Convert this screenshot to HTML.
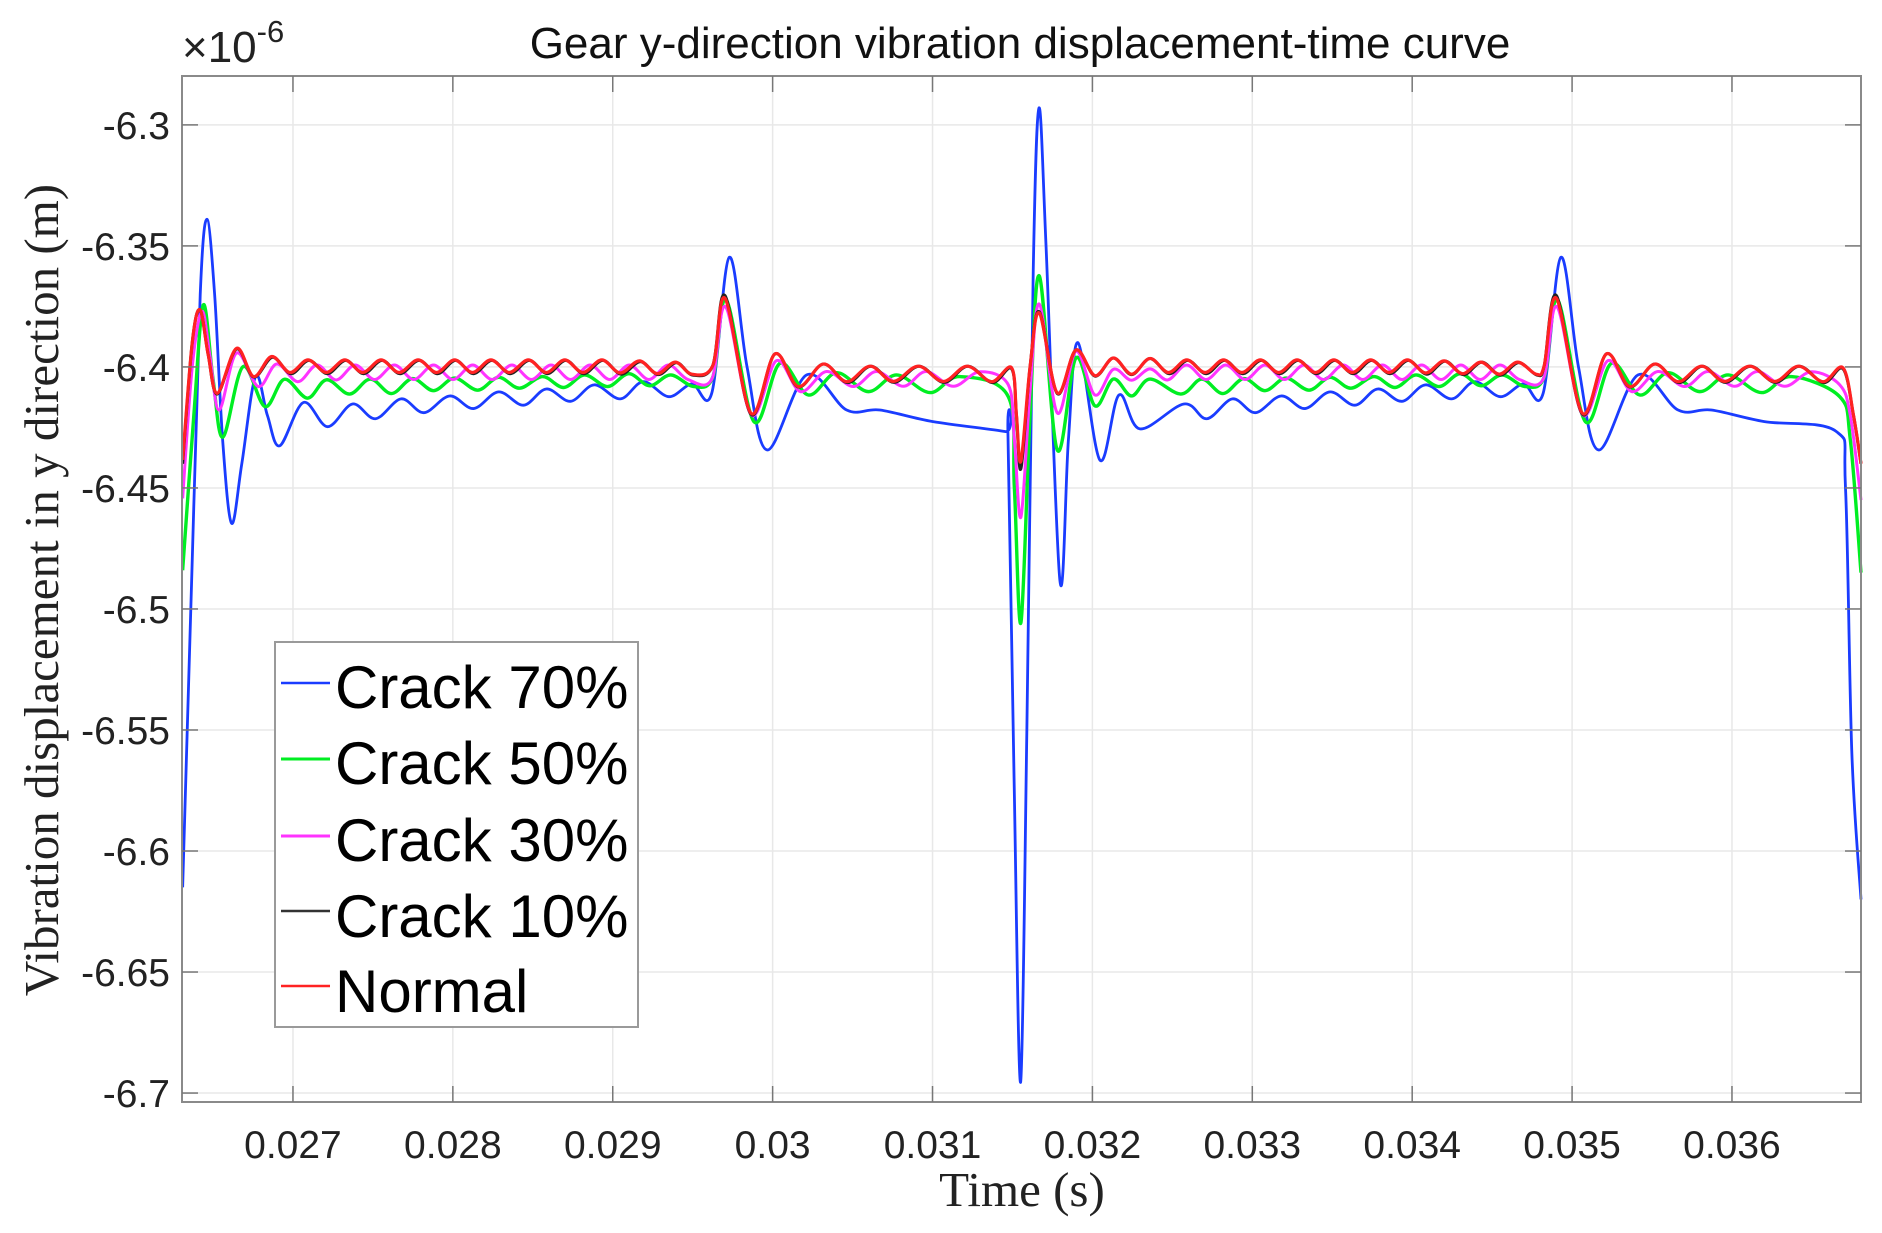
<!DOCTYPE html>
<html><head><meta charset="utf-8"><style>
html,body{margin:0;padding:0;background:#fff;}
svg{display:block;}
</style></head><body>
<svg id="chart" width="1882" height="1233" viewBox="0 0 1882 1233" xmlns="http://www.w3.org/2000/svg">
<rect width="1882" height="1233" fill="#fff"/>
<g id="grid"></g>
<g id="series"></g>
<rect x="182" y="76" width="1679" height="1026" fill="none" stroke="#8a8a8a" stroke-width="2"/>
<g id="ticks"></g>
<text x="1020" y="58" text-anchor="middle" font-family="Liberation Sans, sans-serif" font-size="44" fill="#111">Gear y-direction vibration displacement-time curve</text>
<text x="182" y="62" font-family="Liberation Sans, sans-serif" font-size="44" fill="#222">×10<tspan dy="-20" font-size="31">-6</tspan></text>
<text x="1022" y="1206" text-anchor="middle" font-family="Liberation Serif, serif" font-size="49" fill="#222">Time (s)</text>
<text transform="translate(58,590) rotate(-90)" text-anchor="middle" font-family="Liberation Serif, serif" font-size="49" fill="#222">Vibration displacement in y direction (m)</text>
<g>
<rect x="275" y="642" width="363" height="385" fill="#fff" stroke="#9a9a9a" stroke-width="2"/>
<line x1="281" y1="683" x2="330" y2="683" stroke="#1a3cff" stroke-width="2.5"/>
<text x="335" y="708" font-family="Liberation Sans, sans-serif" font-size="60">Crack 70%</text>
<line x1="281" y1="759" x2="330" y2="759" stroke="#00ee22" stroke-width="3"/>
<text x="335" y="784" font-family="Liberation Sans, sans-serif" font-size="60">Crack 50%</text>
<line x1="281" y1="836" x2="330" y2="836" stroke="#ff33ff" stroke-width="3"/>
<text x="335" y="861" font-family="Liberation Sans, sans-serif" font-size="60">Crack 30%</text>
<line x1="281" y1="911" x2="330" y2="911" stroke="#333" stroke-width="2.5"/>
<text x="335" y="937" font-family="Liberation Sans, sans-serif" font-size="60">Crack 10%</text>
<line x1="281" y1="986" x2="330" y2="986" stroke="#ff2222" stroke-width="2.5"/>
<text x="335" y="1012" font-family="Liberation Sans, sans-serif" font-size="60">Normal</text>
</g>
</svg>
<script>
const xTicks = [0.027,0.028,0.029,0.030,0.031,0.032,0.033,0.034,0.035,0.036];
const xTickLabels = ["0.027","0.028","0.029","0.03","0.031","0.032","0.033","0.034","0.035","0.036"];
const yTicks = [-6.3,-6.35,-6.4,-6.45,-6.5,-6.55,-6.6,-6.65,-6.7];
const yTickLabels = ["-6.3","-6.35","-6.4","-6.45","-6.5","-6.55","-6.6","-6.65","-6.7"];

const crack70 = [[0.02631,-6.615],[0.02637,-6.48],[0.02642,-6.37],[0.026462,-6.339],[0.02651,-6.37],[0.02656,-6.43],[0.026616,-6.4646],[0.02668,-6.44],[0.026766,-6.404],[0.02684,-6.42],[0.026917,-6.4326],
[0.027065,-6.4147],[0.027216,-6.4247],[0.027372,-6.4153],[0.027516,-6.4214],[0.027676,-6.4132],[0.027819,-6.4189],[0.02798,-6.412],[0.02813,-6.4172],[0.028286,-6.4103],[0.028442,-6.4158],[0.028585,-6.4091],[0.028736,-6.4142],[0.028884,-6.4074],[0.029047,-6.4132],[0.029191,-6.4061],[0.029351,-6.4123],[0.029495,-6.407],[0.029619,-6.4109],
[0.029729,-6.3547],[0.02984,-6.40],[0.029966,-6.4343],[0.030213,-6.4033],[0.030463,-6.4178],[0.030671,-6.4178],[0.031003,-6.4226],[0.031453,-6.4267],
[0.031472,-6.4285],[0.03151,-6.57],[0.031551,-6.6955],[0.03159,-6.55],[0.03163,-6.36],[0.031666,-6.293],[0.03171,-6.35],[0.031797,-6.4884],[0.03185,-6.43],[0.03191,-6.39],[0.032047,-6.4385],[0.032166,-6.4116],[0.032297,-6.4256],
[0.032572,-6.4153],[0.032716,-6.4214],[0.032876,-6.4132],[0.033019,-6.4189],[0.03318,-6.412],[0.03333,-6.4172],[0.033486,-6.4103],[0.033642,-6.4158],[0.033785,-6.4091],[0.033936,-6.4142],[0.034084,-6.4074],[0.034247,-6.4132],[0.034391,-6.4061],[0.034551,-6.4123],[0.034695,-6.407],[0.034819,-6.4109],
[0.03493,-6.3547],[0.03504,-6.40],[0.035166,-6.4343],[0.035413,-6.4033],[0.035663,-6.4178],[0.035871,-6.4178],[0.036203,-6.4226],[0.036653,-6.4267],[0.03671,-6.45],[0.03675,-6.56],[0.036807,-6.62]];

const crack50 = [[0.02631,-6.484],[0.02638,-6.42],[0.026439,-6.3744],[0.0265,-6.405],[0.026562,-6.429],[0.026687,-6.3999],[0.026825,-6.4164],[0.026946,-6.4051],[0.02709,-6.4129],[0.02721,-6.4053],[0.027353,-6.4112],[0.027484,-6.405],[0.027616,-6.411],[0.027747,-6.4048],[0.027879,-6.4098],[0.028011,-6.4046],[0.028155,-6.4096],[0.028286,-6.4043],[0.028417,-6.4088],[0.028561,-6.404],[0.028693,-6.4085],[0.028825,-6.4033],[0.028968,-6.4081],[0.0291,-6.4028],[0.029231,-6.4078],[0.029363,-6.4033],[0.029507,-6.4081],[0.029627,-6.404],
[0.02971,-6.3723],[0.029883,-6.4226],[0.030046,-6.3985],[0.030223,-6.4116],[0.0304,-6.4024],[0.030598,-6.4102],[0.030776,-6.4033],[0.030984,-6.4106],[0.031171,-6.404],[0.031474,-6.4123],
[0.031512,-6.45],[0.031553,-6.5056],[0.03161,-6.42],[0.031668,-6.3624],[0.03178,-6.4343],[0.031897,-6.3963],[0.032016,-6.4161],[0.032131,-6.405],[0.032245,-6.412],[0.03236,-6.405],
[0.032553,-6.4112],[0.032684,-6.405],[0.032816,-6.411],[0.032947,-6.4048],[0.033079,-6.4098],[0.033211,-6.4046],[0.033355,-6.4096],[0.033486,-6.4043],[0.033617,-6.4088],[0.033761,-6.404],[0.033893,-6.4085],[0.034025,-6.4033],[0.034168,-6.4081],[0.0343,-6.4028],[0.034431,-6.4078],[0.034563,-6.4033],[0.034707,-6.4081],[0.034827,-6.404],
[0.03491,-6.3723],[0.035083,-6.4226],[0.035246,-6.3985],[0.035423,-6.4116],[0.0356,-6.4024],[0.035798,-6.4102],[0.035976,-6.4033],[0.036184,-6.4106],[0.036371,-6.404],[0.036674,-6.4123],[0.03674,-6.43],[0.036807,-6.485]];

const crack30 = [[0.02631,-6.4543],[0.02637,-6.40],[0.026431,-6.3771],[0.02648,-6.395],[0.026538,-6.4178],[0.026647,-6.3943],[0.026783,-6.4081],[0.026898,-6.3988],[0.02703,-6.4061],[0.02715,-6.3992],[0.02727,-6.4054],
[0.027389,-6.3992],[0.027511,-6.4052],[0.027634,-6.3992],[0.027756,-6.4052],[0.027879,-6.3992],[0.028001,-6.4052],[0.028124,-6.3992],[0.028246,-6.4052],[0.028369,-6.3992],[0.028491,-6.4052],[0.028614,-6.3992],[0.028736,-6.4052],[0.028859,-6.3992],[0.028981,-6.4052],[0.029104,-6.3992],[0.029226,-6.4052],[0.029349,-6.3992],[0.029471,-6.4052],[0.02962,-6.405],
[0.029705,-6.3751],[0.029866,-6.4198],[0.030024,-6.3974],[0.030174,-6.4102],[0.030337,-6.4019],[0.030504,-6.4081],[0.03065,-6.4019],[0.030817,-6.408],[0.03096,-6.4019],[0.03113,-6.408],[0.031297,-6.402],[0.031474,-6.4074],
[0.031512,-6.43],[0.031553,-6.462],[0.03161,-6.41],[0.031668,-6.374],[0.03178,-6.419],[0.031897,-6.3936],[0.032016,-6.4116],[0.032131,-6.401],[0.032245,-6.4055],[0.03236,-6.4008],
[0.03247,-6.4054],[0.032589,-6.3992],[0.032711,-6.4052],[0.032834,-6.3992],[0.032956,-6.4052],[0.033079,-6.3992],[0.033201,-6.4052],[0.033324,-6.3992],[0.033446,-6.4052],[0.033569,-6.3992],[0.033691,-6.4052],[0.033814,-6.3992],[0.033936,-6.4052],[0.034059,-6.3992],[0.034181,-6.4052],[0.034304,-6.3992],[0.034426,-6.4052],[0.034549,-6.3992],[0.034671,-6.4052],[0.03482,-6.405],
[0.034905,-6.3751],[0.035066,-6.4198],[0.035224,-6.3974],[0.035374,-6.4102],[0.035537,-6.4019],[0.035704,-6.4081],[0.03585,-6.4019],[0.036017,-6.408],[0.03616,-6.4019],[0.03633,-6.408],[0.036497,-6.402],[0.036674,-6.4074],[0.03674,-6.42],[0.036807,-6.455]];

const crack10 = [[0.02631,-6.44],[0.02637,-6.39],[0.026419,-6.3764],[0.02647,-6.395],[0.026527,-6.4112],[0.026647,-6.3926],[0.026754,-6.4042],[0.026872,-6.396],[0.026986,-6.4028],[0.0271,-6.3973],[0.027215,-6.4028],[0.02733,-6.3973],[0.027442,-6.4028],[0.027557,-6.3973],[0.02767,-6.4028],[0.027789,-6.3973],[0.027904,-6.4028],[0.028017,-6.3973],[0.028129,-6.4028],[0.028244,-6.3973],[0.028359,-6.4028],[0.028478,-6.3973],[0.028591,-6.4028],[0.028706,-6.3973],[0.028819,-6.4028],[0.028938,-6.3973],[0.029053,-6.403],[0.029173,-6.3978],[0.029285,-6.4032],[0.029398,-6.3982],[0.029501,-6.4034],[0.029626,-6.3994],
[0.029702,-6.3705],[0.029864,-6.4195],[0.030015,-6.3946],[0.03016,-6.4083],[0.030317,-6.3988],[0.030468,-6.4065],[0.030615,-6.3997],[0.030759,-6.4064],[0.030916,-6.3997],[0.031072,-6.4064],[0.031222,-6.3997],[0.031375,-6.4065],[0.031495,-6.4008],
[0.031525,-6.42],[0.031553,-6.442],[0.03161,-6.40],[0.031668,-6.3772],[0.03178,-6.411],[0.031897,-6.393],[0.032016,-6.4038],[0.032131,-6.3963],[0.032245,-6.4032],[0.03236,-6.3965],
[0.032481,-6.4028],[0.032596,-6.3973],[0.032711,-6.4028],[0.032826,-6.3973],[0.032941,-6.4028],[0.033056,-6.3973],[0.033171,-6.4028],[0.033286,-6.3973],[0.033401,-6.4028],[0.033516,-6.3973],[0.033631,-6.4028],[0.033746,-6.3973],[0.033861,-6.4028],[0.033976,-6.3973],[0.034091,-6.403],[0.034206,-6.3976],[0.034321,-6.4032],[0.034436,-6.398],[0.034551,-6.4034],[0.034666,-6.3982],[0.034781,-6.4034],[0.034826,-6.3994],
[0.034902,-6.3705],[0.035064,-6.4195],[0.035215,-6.3946],[0.03536,-6.4083],[0.035517,-6.3988],[0.035668,-6.4065],[0.035815,-6.3997],[0.035959,-6.4064],[0.036116,-6.3997],[0.036272,-6.4064],[0.036422,-6.3997],[0.036575,-6.4065],[0.036695,-6.4008],[0.03676,-6.42],[0.036807,-6.44]];

const normal = [[0.02631,-6.4384],[0.02637,-6.39],[0.026419,-6.3764],[0.02647,-6.395],[0.026527,-6.4109],[0.026647,-6.3923],[0.026754,-6.404],[0.026867,-6.3957],[0.026981,-6.4023],[0.027094,-6.3971],[0.027209,-6.4023],[0.027324,-6.3971],[0.027436,-6.4023],[0.027551,-6.3971],[0.027664,-6.4023],[0.027783,-6.3971],[0.027898,-6.4023],[0.028011,-6.3971],[0.028123,-6.4023],[0.028238,-6.3971],[0.028353,-6.4023],[0.028472,-6.3971],[0.028585,-6.4023],[0.0287,-6.3971],[0.028813,-6.4023],[0.028932,-6.3971],[0.029047,-6.4025],[0.029167,-6.3975],[0.029279,-6.4028],[0.029392,-6.398],[0.029495,-6.403],[0.029626,-6.3994],
[0.029702,-6.3716],[0.029864,-6.4191],[0.030015,-6.3946],[0.03016,-6.4081],[0.030317,-6.3988],[0.030463,-6.4061],[0.03061,-6.3997],[0.030754,-6.406],[0.030911,-6.3997],[0.031067,-6.406],[0.031217,-6.3997],[0.03137,-6.4061],[0.031495,-6.4004],
[0.031525,-6.42],[0.031553,-6.4389],[0.03161,-6.40],[0.031668,-6.3777],[0.03178,-6.4107],[0.031897,-6.393],[0.032016,-6.4036],[0.032131,-6.3963],[0.032245,-6.403],[0.03236,-6.3965],
[0.032475,-6.4023],[0.03259,-6.3971],[0.032705,-6.4023],[0.03282,-6.3971],[0.032935,-6.4023],[0.03305,-6.3971],[0.033165,-6.4023],[0.03328,-6.3971],[0.033395,-6.4023],[0.03351,-6.3971],[0.033625,-6.4023],[0.03374,-6.3971],[0.033855,-6.4023],[0.03397,-6.3971],[0.034085,-6.4025],[0.0342,-6.3975],[0.034315,-6.4028],[0.03443,-6.398],[0.034545,-6.403],[0.03466,-6.398],[0.034775,-6.403],[0.034826,-6.3994],
[0.034902,-6.3716],[0.035064,-6.4191],[0.035215,-6.3946],[0.03536,-6.4081],[0.035517,-6.3988],[0.035663,-6.4061],[0.03581,-6.3997],[0.035954,-6.406],[0.036111,-6.3997],[0.036267,-6.406],[0.036417,-6.3997],[0.03657,-6.4061],[0.036695,-6.4004],[0.03676,-6.42],[0.036807,-6.44]];

const seriesNames = ["crack-70","crack-50","crack-30","crack-10","normal"];
const seriesColors = ["#1a3cff","#00ee22","#ff33ff","#222222","#ff2222"];
const seriesWidths = [2.8,3.4,3,3,3.2];
const seriesData = [crack70,crack50,crack30,crack10,normal];

const X0=182,X1=1861,Y0=76,Y1=1102;
const xMin=0.026306,xMax=0.036807,yMin=-6.7037,yMax=-6.2798;
function xs(t){return X0+(t-xMin)/(xMax-xMin)*(X1-X0);}
function ys(v){return Y1-(v-yMin)/(yMax-yMin)*(Y1-Y0);}
const NS="http://www.w3.org/2000/svg";
const grid=document.getElementById('grid'),ticks=document.getElementById('ticks'),ser=document.getElementById('series');
function mk(tag,attrs,parent){const e=document.createElementNS(NS,tag);for(const k in attrs)e.setAttribute(k,attrs[k]);parent.appendChild(e);return e;}
xTicks.forEach((t,i)=>{
  const x=xs(t);
  const g=mk('line',{x1:x,y1:Y0,x2:x,y2:Y1,stroke:'#e8e8e8','stroke-width':1.5},grid);
  
  
  const tk=mk('line',{x1:x,y1:Y1,x2:x,y2:Y1-16,stroke:'#777','stroke-width':1.5},ticks);
  
  
  const tk2=mk('line',{x1:x,y1:Y0,x2:x,y2:Y0+16,stroke:'#777','stroke-width':1.5},ticks);
  
  
  const lb=mk('text',{x:x,y:1158,'text-anchor':'middle','font-family':'Liberation Sans, sans-serif','font-size':39,fill:'#222'},ticks);
  lb.textContent=xTickLabels[i];
  
  
});
yTicks.forEach((v,i)=>{
  const y=ys(v);
  const g=mk('line',{x1:X0,y1:y,x2:X1,y2:y,stroke:'#e8e8e8','stroke-width':1.5},grid);
  
  
  const tk=mk('line',{x1:X0,y1:y,x2:X0+16,y2:y,stroke:'#777','stroke-width':1.5},ticks);
  
  
  const tk2=mk('line',{x1:X1,y1:y,x2:X1-16,y2:y,stroke:'#777','stroke-width':1.5},ticks);
  
  
  const lb=mk('text',{x:170,y:y+14,'text-anchor':'end','font-family':'Liberation Sans, sans-serif','font-size':39,fill:'#222'},ticks);
  lb.textContent=yTickLabels[i];
  
  
});
function smoothPath(pts){
  const p=pts.map(d=>[xs(d[0]),ys(d[1])]);
  let s='M'+p[0][0].toFixed(2)+','+p[0][1].toFixed(2);
  for(let i=0;i<p.length-1;i++){
    const a=p[i-1]||p[i],b=p[i],c=p[i+1],d=p[i+2]||c;
    const c1x=b[0]+(c[0]-a[0])/6,c1y=b[1]+(c[1]-a[1])/6;
    const c2x=c[0]-(d[0]-b[0])/6,c2y=c[1]-(d[1]-b[1])/6;
    s+='C'+c1x.toFixed(2)+','+c1y.toFixed(2)+' '+c2x.toFixed(2)+','+c2y.toFixed(2)+' '+c[0].toFixed(2)+','+c[1].toFixed(2);
  }
  return s;
}
seriesData.forEach((d,i)=>{
  const path=mk('path',{d:smoothPath(d),fill:'none',stroke:seriesColors[i],'stroke-width':seriesWidths[i],'stroke-linejoin':'round'},ser);
  
  
});
</script>
</body></html>
